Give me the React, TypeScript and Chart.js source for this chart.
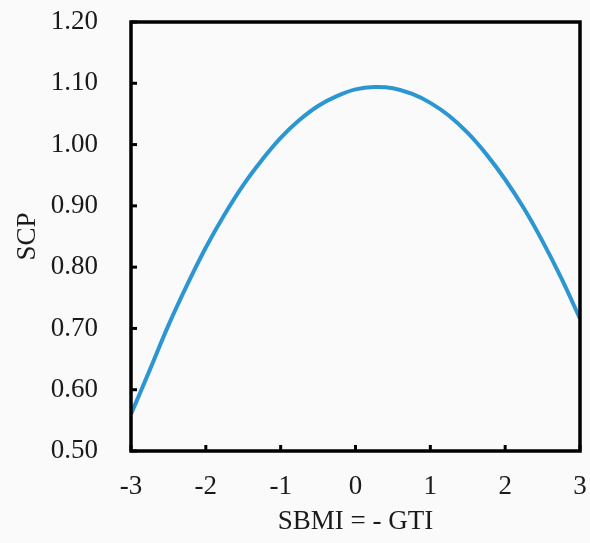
import React, { useEffect, useRef } from "react";
import { Chart, registerables } from "chart.js";

Chart.register(...registerables);

const xValues = [-3, -2.75, -2.5, -2.25, -2, -1.75, -1.5, -1.25, -1, -0.75, -0.5, -0.25, 0, 0.25, 0.5, 0.75, 1, 1.25, 1.5, 1.75, 2, 2.25, 2.5, 2.75, 3];
const scpValues = [0.560, 0.632, 0.705, 0.771, 0.832, 0.886, 0.934, 0.975, 1.011, 1.040, 1.063, 1.079, 1.090, 1.094, 1.092, 1.083, 1.068, 1.047, 1.019, 0.984, 0.943, 0.896, 0.842, 0.782, 0.716];
const xTitle = "SBMI = - GTI";
const yTitle = "SCP";

const FONT = "'Liberation Serif', 'Times New Roman', serif";
const TEXT = "#1a1a1a";

const boxPlugin = {
  id: "boxPlugin",
  beforeDraw(chart: any) {
    const ctx = chart.ctx;
    ctx.save();
    ctx.fillStyle = "#fafafa";
    ctx.fillRect(0, 0, chart.width, chart.height);
    ctx.restore();
  },
  afterDraw(chart: any) {
    const { ctx, chartArea } = chart;
    const { left, right, top, bottom } = chartArea;
    ctx.save();
    ctx.strokeStyle = "#000";
    ctx.lineWidth = 3.5;
    ctx.lineJoin = "miter";
    ctx.strokeRect(left, top, right - left, bottom - top);
    ctx.lineWidth = 3;
    const ys = chart.scales.y;
    ys.ticks.forEach((t: any) => {
      const p = ys.getPixelForValue(t.value);
      ctx.beginPath();
      ctx.moveTo(left, p);
      ctx.lineTo(left + 6, p);
      ctx.stroke();
    });
    const xs = chart.scales.x;
    xs.ticks.forEach((t: any) => {
      const p = xs.getPixelForValue(t.value);
      ctx.beginPath();
      ctx.moveTo(p, bottom);
      ctx.lineTo(p, bottom - 6);
      ctx.stroke();
    });
    ctx.restore();
  },
};

export default function App() {
  const ref = useRef<HTMLCanvasElement | null>(null);
  useEffect(() => {
    if (!ref.current) return;
    const chart = new Chart(ref.current, {
      type: "line",
      data: {
        datasets: [
          {
            data: xValues.map((x, i) => ({ x, y: scpValues[i] })),
            borderColor: "rgb(43,150,210)",
            borderWidth: 4,
            pointRadius: 0,
            fill: false,
            tension: 0.4,
          },
        ],
      },
      options: {
        animation: false,
        responsive: false,
        maintainAspectRatio: false,
        layout: { padding: { top: 22, right: 10, left: 0, bottom: 0 } },
        plugins: { legend: { display: false }, tooltip: { enabled: false } },
        scales: {
          x: {
            type: "linear",
            min: -3,
            max: 3,
            ticks: {
              stepSize: 1,
              padding: 20,
              color: TEXT,
              font: { family: FONT, size: 27 },
            },
            grid: { display: false, drawTicks: false },
            border: { display: false },
            title: {
              display: true,
              text: xTitle,
              color: TEXT,
              font: { family: FONT, size: 27 },
              padding: { top: 0, bottom: 5 },
            },
            afterFit(scale: any) {
              scale.height = 92;
              scale.paddingLeft = 0;
              scale.paddingRight = 0;
            },
          },
          y: {
            min: 0.5,
            max: 1.2,
            ticks: {
              stepSize: 0.1,
              padding: 33,
              color: TEXT,
              font: { family: FONT, size: 27 },
              callback: (v: any) => Number(v).toFixed(2),
            },
            grid: { display: false, drawTicks: false },
            border: { display: false },
            title: {
              display: true,
              text: yTitle,
              color: TEXT,
              font: { family: FONT, size: 27 },
              padding: { top: 12, bottom: 0 },
            },
            afterFit(scale: any) {
              scale.width = 131;
              scale.paddingTop = 0;
              scale.paddingBottom = 0;
            },
          },
        },
      },
      plugins: [boxPlugin],
    } as any);
    return () => chart.destroy();
  }, []);
  return (
    <div style={{ position: "fixed", left: 0, top: 0, width: 590, height: 543, background: "#fafafa" }}>
      <canvas ref={ref} width={590} height={543} style={{ width: 590, height: 543, display: "block" }} />
    </div>
  );
}
